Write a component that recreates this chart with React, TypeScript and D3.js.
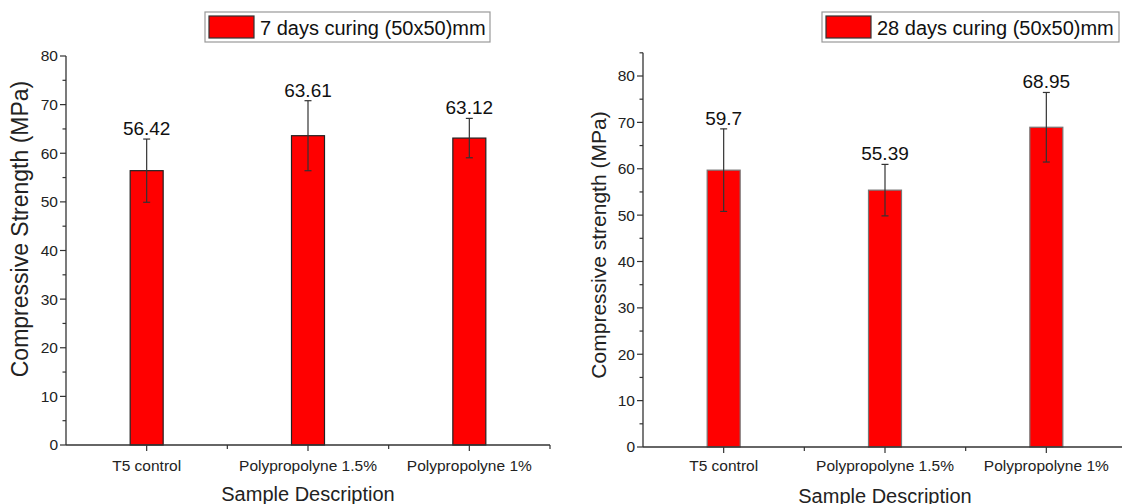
import React, { useEffect, useRef } from "react";
import * as d3 from "d3";

// values
const categories = ["T5 control", "Polypropolyne 1.5%", "Polypropolyne 1%"];
const strength7 = [56.42, 63.61, 63.12];
const error7 = [6.5, 7.2, 4.05];
const labels7 = ["56.42", "63.61", "63.12"];
const strength28 = [59.7, 55.39, 68.95];
const error28 = [8.9, 5.55, 7.5];
const labels28 = ["59.7", "55.39", "68.95"];

const W = 1122;
const H = 504;
const FONT = "'Liberation Sans', Arial, sans-serif";
const RED = "#ff0000";

function drawPanel(svg, cfg) {
  const x = d3.scaleBand().domain(categories).range(cfg.xRange);
  const y = d3
    .scaleLinear()
    .domain([0, cfg.yMax])
    .range([cfg.yBase, cfg.yBase - cfg.yMax * cfg.unit]);
  const barW = 33;
  const cx = (i) => x(categories[i]) + x.bandwidth() / 2;
  const g = svg.append("g").attr("font-family", FONT);

  // bars
  g.selectAll("rect.bar")
    .data(cfg.values)
    .join("rect")
    .attr("x", (d, i) => cx(i) - barW / 2)
    .attr("y", (d) => y(d))
    .attr("width", barW)
    .attr("height", (d) => y(0) - y(d))
    .attr("fill", RED)
    .attr("stroke", cfg.barStroke)
    .attr("stroke-width", 1.2);

  // error bars + value labels
  cfg.values.forEach((v, i) => {
    const top = y(v + cfg.errors[i]);
    const bot = y(v - cfg.errors[i]);
    g.append("line")
      .attr("x1", cx(i)).attr("x2", cx(i))
      .attr("y1", top).attr("y2", bot)
      .attr("stroke", "#333").attr("stroke-width", 1.2);
    [top, bot].forEach((yy) =>
      g.append("line")
        .attr("x1", cx(i) - 3.5).attr("x2", cx(i) + 3.5)
        .attr("y1", yy).attr("y2", yy)
        .attr("stroke", "#333").attr("stroke-width", 1.2)
    );
    g.append("text")
      .attr("x", cx(i))
      .attr("y", top - 4)
      .attr("text-anchor", "middle")
      .attr("font-size", 19)
      .attr("fill", "#111")
      .text(cfg.labels[i]);
  });

  // axes
  const x0 = cfg.xRange[0];
  const x1 = cfg.xRange[1];
  g.append("line")
    .attr("x1", x0).attr("x2", x1)
    .attr("y1", y(0)).attr("y2", y(0))
    .attr("stroke", "#333").attr("stroke-width", 1.3);
  g.append("line")
    .attr("x1", x0).attr("x2", x0)
    .attr("y1", y(0)).attr("y2", y(cfg.yMax))
    .attr("stroke", "#333").attr("stroke-width", 1.3);

  d3.range(0, cfg.yMax + 0.01, 5).forEach((v) => {
    const major = v % 10 === 0;
    g.append("line")
      .attr("x1", x0).attr("x2", x0 - (major ? 6 : 3.5))
      .attr("y1", y(v)).attr("y2", y(v))
      .attr("stroke", "#333").attr("stroke-width", 1.2);
    if (major) {
      g.append("text")
        .attr("x", x0 - 8)
        .attr("y", y(v))
        .attr("dy", "0.35em")
        .attr("text-anchor", "end")
        .attr("font-size", 15.5)
        .attr("fill", "#222")
        .text(v);
    }
  });

  categories.forEach((c, i) => {
    g.append("line")
      .attr("x1", cx(i)).attr("x2", cx(i))
      .attr("y1", y(0)).attr("y2", y(0) + 6)
      .attr("stroke", "#333").attr("stroke-width", 1.2);
    const edge = x(c) + x.bandwidth();
    g.append("line")
      .attr("x1", edge).attr("x2", edge)
      .attr("y1", y(0)).attr("y2", y(0) + 4)
      .attr("stroke", "#333").attr("stroke-width", 1.2);
    g.append("text")
      .attr("x", cx(i))
      .attr("y", 471)
      .attr("text-anchor", "middle")
      .attr("font-size", 15.5)
      .attr("fill", "#222")
      .text(c);
  });

  // axis titles
  g.append("text")
    .attr("transform", `translate(${cfg.yTitleX},${cfg.yTitleY}) rotate(-90)`)
    .attr("text-anchor", "middle")
    .attr("font-size", cfg.yTitleSize)
    .attr("fill", "#222")
    .text(cfg.yTitle);
  g.append("text")
    .attr("x", cx(1))
    .attr("y", cfg.xTitleY)
    .attr("text-anchor", "middle")
    .attr("font-size", 20)
    .attr("fill", "#222")
    .text("Sample Description");

  // legend
  const lg = g.append("g").attr("transform", `translate(${cfg.legendX},12)`);
  lg.append("rect")
    .attr("width", cfg.legendW).attr("height", 30)
    .attr("fill", "#fff").attr("stroke", "#999").attr("stroke-width", 1.2);
  lg.append("rect")
    .attr("x", 4).attr("y", 4).attr("width", 45).attr("height", 22)
    .attr("fill", RED).attr("stroke", "#333").attr("stroke-width", 1.2);
  lg.append("text")
    .attr("x", 55).attr("y", 23)
    .attr("font-size", 20)
    .attr("fill", "#111")
    .text(cfg.legendText);
}

export default function App() {
  const svgRef = useRef(null);

  useEffect(() => {
    const svg = d3.select(svgRef.current);
    svg.selectAll("*").remove();

    drawPanel(svg, {
      values: strength7,
      errors: error7,
      labels: labels7,
      xRange: [66, 550],
      yBase: 445,
      unit: 4.8625,
      yMax: 80,
      barStroke: "#222",
      yTitle: "Compressive Strength (MPa)",
      yTitleSize: 23,
      yTitleX: 28,
      yTitleY: 229,
      xTitleY: 501,
      legendX: 205,
      legendW: 285,
      legendText: "7 days curing (50x50)mm",
    });

    drawPanel(svg, {
      values: strength28,
      errors: error28,
      labels: labels28,
      xRange: [643, 1127],
      yBase: 447,
      unit: 4.6375,
      yMax: 85,
      barStroke: "#777",
      yTitle: "Compressive strength (MPa)",
      yTitleSize: 21,
      yTitleX: 606,
      yTitleY: 245,
      xTitleY: 503,
      legendX: 822,
      legendW: 297,
      legendText: "28 days curing (50x50)mm",
    });
  }, []);

  return (
    <div style={{ position: "fixed", left: 0, top: 0, width: W, height: H, background: "#fff" }}>
      <svg ref={svgRef} width={W} height={H} style={{ display: "block" }} />
    </div>
  );
}
